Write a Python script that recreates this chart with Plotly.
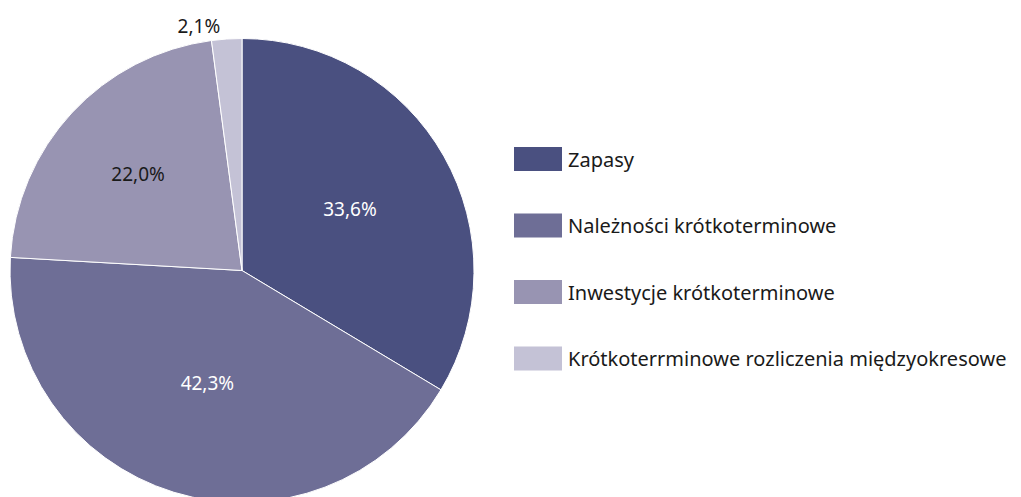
import plotly.graph_objects as go

# data
labels = [
    "Zapasy",
    "Należności krótkoterminowe",
    "Inwestycje krótkoterminowe",
    "Krótkoterrminowe rozliczenia międzyokresowe",
]
values = [33.6, 42.3, 22.0, 2.1]
colors = ["#4a5080", "#6e6e96", "#9894b2", "#c4c2d6"]
text_colors = ["#ffffff", "#ffffff", "#1a1a1a", "#1a1a1a"]
text_pos = ["inside", "inside", "inside", "outside"]

# figure is a bit taller than the window so the pie bottom gets cut like the original
W, H = 1021, 520
FONT = "Noto Sans"

fig = go.Figure(
    go.Pie(
        labels=labels,
        values=values,
        sort=False,
        direction="clockwise",
        rotation=0,
        marker=dict(colors=colors, line=dict(color="#ffffff", width=1)),
        texttemplate="%{percent:.1%}",
        textposition=text_pos,
        insidetextfont=dict(color=text_colors, size=19, family=FONT),
        outsidetextfont=dict(color="#1a1a1a", size=19, family=FONT),
        insidetextorientation="horizontal",
        hoverinfo="label+percent",
        showlegend=False,
        domain=dict(x=[10 / W, 474 / W], y=[1 - 506 / H, 1 - 35 / H]),
    )
)

# legend drawn by hand, wide swatches like the original
top, step = 159, 66.5
for i, (lab, col) in enumerate(zip(labels, colors)):
    yc = top + i * step
    fig.add_shape(
        type="rect", xref="paper", yref="paper",
        x0=514 / W, x1=562 / W,
        y0=1 - (yc + 12) / H, y1=1 - (yc - 12) / H,
        fillcolor=col, line=dict(width=0),
    )
    fig.add_annotation(
        x=566 / W, y=1 - yc / H, xref="paper", yref="paper",
        text=lab, showarrow=False, xanchor="left", yanchor="middle",
        font=dict(family=FONT, size=20, color="#1a1a1a"),
    )

fig.update_layout(
    width=W,
    height=H,
    margin=dict(l=0, r=0, t=0, b=0),
    paper_bgcolor="#ffffff",
    plot_bgcolor="#ffffff",
    separators=", ",
    font=dict(family=FONT, size=19, color="#1a1a1a"),
)

fig.write_html(
    "out.html",
    config={"displayModeBar": False},
    post_script="document.body.style.margin='0';"
                "document.documentElement.style.overflow='hidden';"
                "document.body.style.overflow='hidden';",
)
